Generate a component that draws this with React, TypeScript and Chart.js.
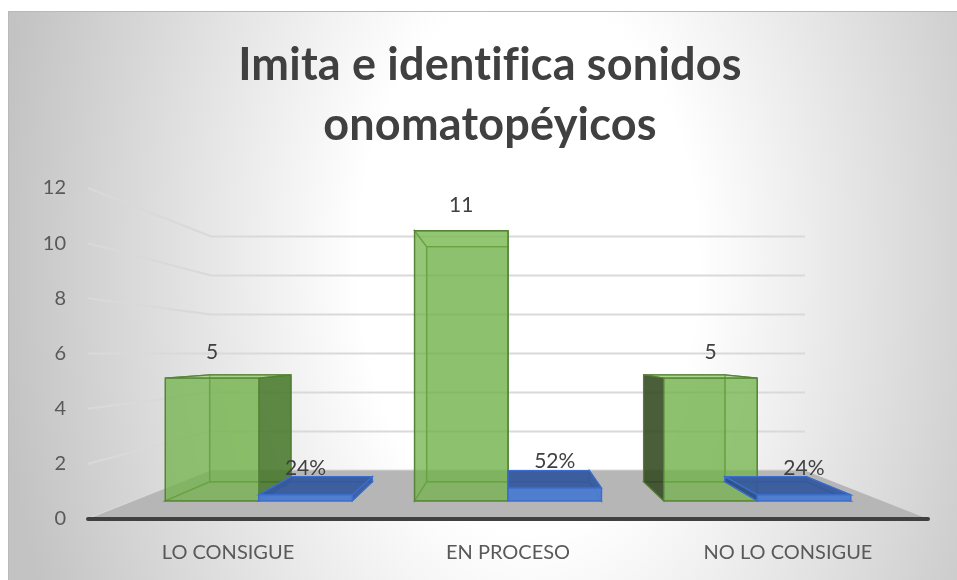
import React, { useEffect, useRef } from "react";
import { Chart, registerables } from "chart.js";

Chart.register(...registerables);

// ---- data ----
const categories = ["LO CONSIGUE", "EN PROCESO", "NO LO CONSIGUE"];
const countValues = [5, 11, 5];
const percentValues = [0.24, 0.52, 0.24];
const titleLines = ["Imita e identifica sonidos", "onomatopéyicos"];
const yMin = 0;
const yMax = 12;
const yStep = 2;

// ---- 3D look (depth factors toward the vanishing point) ----
const S_WALL = 0.707;
const S_FRONT = 0.89;
const S_BACK = 0.775;

const FONT = "Lato, 'Open Sans', sans-serif";

const seriesStyles = [
  {
    back: "rgba(112,173,71,0.45)",
    bottom: "rgba(112,173,71,0.25)",
    far: "rgba(112,173,71,0.3)",
    near: ["rgba(45,63,30,0.8)", "rgba(63,111,36,0.75)"],
    top: "rgba(160,215,120,0.55)",
    front: "rgba(115,180,75,0.65)",
    stroke: "rgba(84,130,53,0.9)",
  },
  {
    back: "rgba(68,114,196,0.4)",
    bottom: "rgba(68,114,196,0.3)",
    far: "rgba(68,114,196,0.35)",
    near: ["rgba(40,70,130,0.85)", "rgba(55,90,155,0.9)"],
    top: "rgba(52,88,155,0.9)",
    front: "rgba(76,124,208,0.95)",
    stroke: "rgba(60,110,205,1)",
  },
];

function poly(ctx: CanvasRenderingContext2D, pts: number[][], fill: string, stroke?: string) {
  ctx.beginPath();
  ctx.moveTo(pts[0][0], pts[0][1]);
  for (let i = 1; i < pts.length; i++) ctx.lineTo(pts[i][0], pts[i][1]);
  ctx.closePath();
  ctx.fillStyle = fill;
  ctx.fill();
  if (stroke) {
    ctx.strokeStyle = stroke;
    ctx.lineWidth = 1.3;
    ctx.stroke();
  }
}

const scenePlugin = {
  id: "scene3d",
  beforeDraw(chart: any) {
    const { ctx, width, height } = chart;
    ctx.save();
    // background elliptical radial gradient
    const cx = 520;
    const cy = 250;
    ctx.translate(cx, cy);
    ctx.scale(1, 1.6);
    const g = ctx.createRadialGradient(0, 0, 0, 0, 0, 530);
    g.addColorStop(0, "#ffffff");
    g.addColorStop(0.32, "#ffffff");
    g.addColorStop(1, "#c3c3c3");
    ctx.fillStyle = g;
    ctx.fillRect(-cx, -cy / 1.6, width, height / 1.6);
    ctx.restore();
    ctx.save();
    ctx.strokeStyle = "#b9b9b9";
    ctx.lineWidth = 1;
    ctx.beginPath();
    ctx.moveTo(0.5, height);
    ctx.lineTo(0.5, 0.5);
    ctx.lineTo(width, 0.5);
    ctx.stroke();
    // title
    ctx.fillStyle = "#404040";
    ctx.font = `bold 45px ${FONT}`;
    ctx.textAlign = "center";
    ctx.textBaseline = "alphabetic";
    try {
      (ctx as any).letterSpacing = "0.2px";
      (ctx as any).textRendering = "optimizeLegibility";
    } catch (e) {}
    titleLines.forEach((t, i) => ctx.fillText(t, 482, 69 + i * 60));
    ctx.restore();
  },
  beforeDatasetsDraw(chart: any) {
    const { ctx, chartArea: ca, scales } = chart;
    const yS = scales.y;
    const vx = (ca.left + ca.right) / 2;
    const vy = (ca.top + ca.bottom) / 2;
    const P = (x: number, y: number, s: number) => [vx + s * (x - vx), vy + s * (y - vy)];

    ctx.save();
    // walls gridlines
    ctx.strokeStyle = "#d9d9d9";
    ctx.lineWidth = 2;
    yS.ticks.forEach((t: any) => {
      const y = yS.getPixelForValue(t.value);
      const b1 = P(ca.left, y, S_WALL);
      const b2 = P(ca.right, y, S_WALL);
      ctx.beginPath();
      ctx.moveTo(ca.left, y);
      ctx.lineTo(b1[0], b1[1]);
      ctx.lineTo(b2[0], b2[1]);
      ctx.stroke();
    });
    // floor
    const y0 = yS.getPixelForValue(0);
    poly(ctx, [[ca.left, y0], [ca.right, y0], P(ca.right, y0, S_WALL), P(ca.left, y0, S_WALL)], "#b6b6b6");
    // front base line
    ctx.strokeStyle = "#404040";
    ctx.lineWidth = 4;
    ctx.lineCap = "round";
    ctx.beginPath();
    ctx.moveTo(ca.left, y0);
    ctx.lineTo(ca.right, y0);
    ctx.stroke();

    // bars
    const labels: { x: number; y: number; text: string }[] = [];
    chart.data.datasets.forEach((ds: any, di: number) => {
      const meta = chart.getDatasetMeta(di);
      const st = seriesStyles[di];
      meta.data.forEach((el: any, i: number) => {
        const x0 = el.x - el.width / 2;
        const x1 = el.x + el.width / 2;
        const yt = el.y;
        const yb = el.base;
        const fTL = P(x0, yt, S_FRONT), fTR = P(x1, yt, S_FRONT), fBL = P(x0, yb, S_FRONT), fBR = P(x1, yb, S_FRONT);
        const bTL = P(x0, yt, S_BACK), bTR = P(x1, yt, S_BACK), bBL = P(x0, yb, S_BACK), bBR = P(x1, yb, S_BACK);
        const leftFace = [fTL, bTL, bBL, fBL];
        const rightFace = [fTR, bTR, bBR, fBR];
        const leftNear = x0 > vx;
        const rightNear = x1 < vx;
        poly(ctx, [bTL, bTR, bBR, bBL], st.back, st.stroke);
        poly(ctx, [fBL, fBR, bBR, bBL], st.bottom, st.stroke);
        if (!leftNear) poly(ctx, leftFace, st.far, st.stroke);
        if (!rightNear) poly(ctx, rightFace, st.far, st.stroke);
        poly(ctx, [fTL, fTR, bTR, bTL], st.top, st.stroke);
        if (leftNear) poly(ctx, leftFace, st.near[0], st.stroke);
        if (rightNear) poly(ctx, rightFace, st.near[1], st.stroke);
        poly(ctx, [fTL, fTR, fBR, fBL], st.front, st.stroke);
        const v = ds.data[i];
        const text = di === 0 ? String(v) : `${Math.round(v * 100)}%`;
        labels.push({ x: P(el.x, yt, S_FRONT)[0], y: fTL[1] - (di === 0 ? 26 : 27), text });
      });
    });
    ctx.fillStyle = "#404040";
    ctx.font = `21px ${FONT}`;
    ctx.textAlign = "center";
    ctx.textBaseline = "middle";
    labels.forEach((l) => ctx.fillText(l.text, l.x, l.y));
    ctx.restore();
    return false;
  },
};

export default function App() {
  const ref = useRef<HTMLCanvasElement | null>(null);
  useEffect(() => {
    if (!ref.current) return;
    const chart = new Chart(ref.current, {
      type: "bar",
      data: {
        labels: categories,
        datasets: [
          { label: "Cantidad", data: countValues, backgroundColor: "#70AD47", categoryPercentage: 0.75, barPercentage: 1 },
          { label: "Porcentaje", data: percentValues, backgroundColor: "#4472C4", categoryPercentage: 0.75, barPercentage: 1 },
        ],
      },
      options: {
        animation: false,
        responsive: false,
        layout: { padding: { top: 177, right: 29, left: 0, bottom: 0 } },
        plugins: { legend: { display: false }, tooltip: { enabled: false }, title: { display: false } },
        scales: {
          x: {
            grid: { display: false, drawTicks: false },
            border: { display: false },
            ticks: { color: "#595959", font: { family: FONT, size: 20 }, padding: 22 },
            afterFit: (s: any) => {
              s.height = 61;
            },
          },
          y: {
            min: yMin,
            max: yMax,
            grid: { display: false, drawTicks: false },
            border: { display: false },
            ticks: { stepSize: yStep, color: "#595959", font: { family: FONT, size: 20 }, padding: 22 },
            afterFit: (s: any) => {
              s.width = 80;
            },
          },
        },
      },
      plugins: [scenePlugin],
    });
    return () => chart.destroy();
  }, []);
  return (
    <div style={{ position: "fixed", left: 8, top: 11, width: 949, height: 569 }}>
      <canvas ref={ref} width={949} height={569} style={{ display: "block" }} />
    </div>
  );
}
